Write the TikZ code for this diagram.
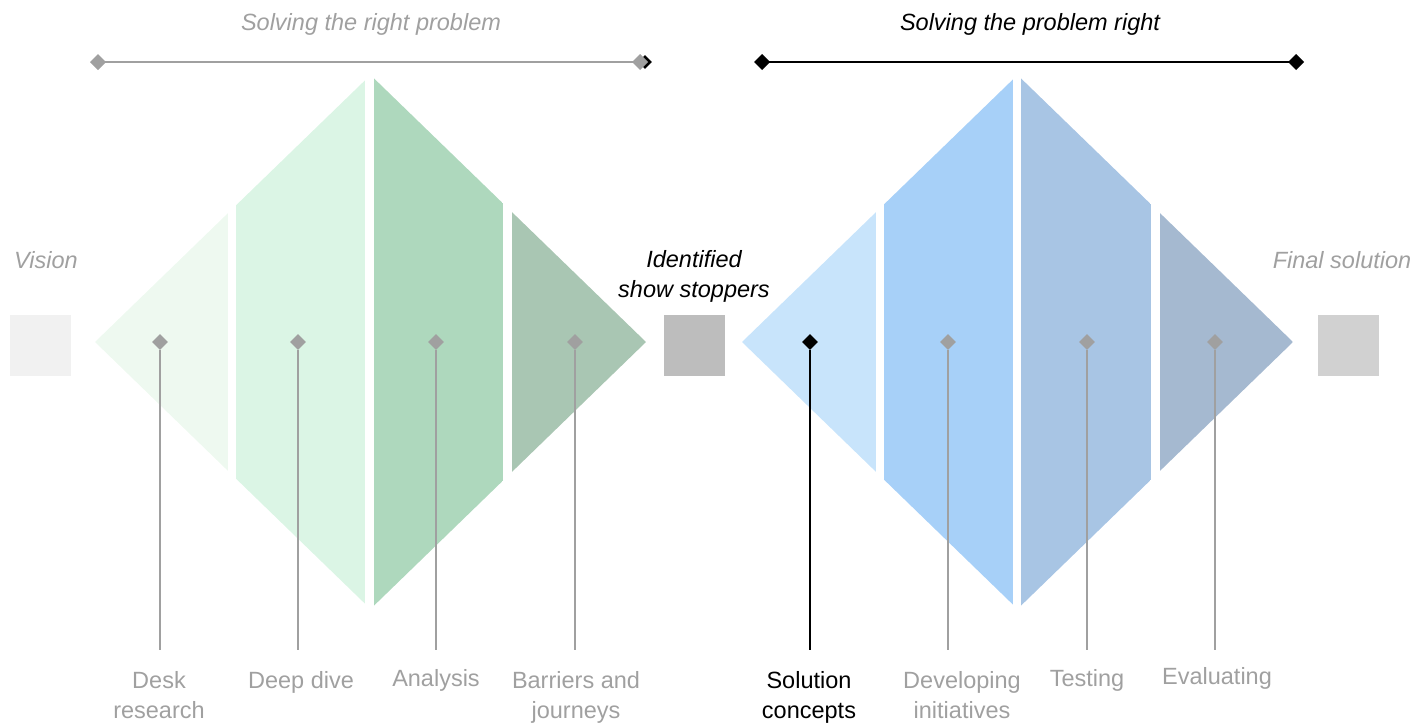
\documentclass[tikz,border=0pt]{standalone}
\usepackage{fontspec}
\setmainfont{Liberation Sans}
\usepackage{xcolor}
\usepackage{tikz}
\usetikzlibrary{arrows.meta,shapes.geometric}

\definecolor{txtgray}{HTML}{A0A0A0}
\definecolor{gA}{HTML}{EEF9F0}
\definecolor{gB}{HTML}{DBF5E5}
\definecolor{gC}{HTML}{AED8BD}
\definecolor{gD}{HTML}{A9C6B3}
\definecolor{bA}{HTML}{C8E4FB}
\definecolor{bB}{HTML}{A7D0F8}
\definecolor{bC}{HTML}{A8C5E4}
\definecolor{bD}{HTML}{A5B9D0}
\definecolor{sqA}{HTML}{F1F1F1}
\definecolor{sqB}{HTML}{BDBDBD}
\definecolor{sqC}{HTML}{D1D1D1}

\tikzset{
	dot/.style={diamond,fill=txtgray,inner sep=0pt,minimum width=16pt,minimum height=16pt},
	stem/.style={line width=1.5pt,txtgray},
	lbl/.style={font=\fontsize{23.5}{30}\selectfont,align=center,inner sep=0pt,anchor=north,txtgray},
	ttl/.style={font=\fontsize{23.5}{30}\selectfont\itshape,align=center,inner sep=0pt,anchor=base},
	sq/.style={minimum size=61pt,inner sep=0pt},
	span/.style={line width=2pt,{Diamond[length=16pt,width=16pt]}-{Diamond[length=16pt,width=16pt]}}
}

\begin{document}
\begin{tikzpicture}[x=1pt,y=-1pt]
		\useasboundingbox (0,0) rectangle (1416,723);
		% left diamond
		\begin{scope}
			\clip (95,342) -- (370.5,75) -- (646,342) -- (370.5,609) -- cycle;
			\fill[gA] (95,0) rectangle (228,723);
			\fill[gB] (236,0) rectangle (365,723);
			\fill[gC] (374,0) rectangle (503,723);
			\fill[gD] (512,0) rectangle (646,723);
		\end{scope}
		% right diamond
		\begin{scope}
			\clip (742,342) -- (1017.5,75) -- (1293,342) -- (1017.5,609) -- cycle;
			\fill[bA] (742,0) rectangle (876,723);
			\fill[bB] (884,0) rectangle (1013,723);
			\fill[bC] (1021,0) rectangle (1151,723);
			\fill[bD] (1160,0) rectangle (1293,723);
		\end{scope}

		% titles and spans
		\node[ttl,txtgray] (left title) at (371,30) {Solving the right problem};
		\node[ttl] (right title) at (1030,30) {Solving the problem right};
		\node[diamond,fill=black,inner sep=0pt,minimum width=14pt,minimum height=14pt] (left end) at (645,62) {};
		\coordinate (la) at (90,62);
		\coordinate (lb) at (648,62);
		\draw[span,txtgray] (la) -- (lb);
		\coordinate (ra) at (754,62);
		\coordinate (rb) at (1304,62);
		\draw[span,black] (ra) -- (rb);

		% squares
		\node[sq,fill=sqA] (vision box) at (40.5,345.5) {};
		\node[sq,fill=sqB] (stopper box) at (694.5,345.5) {};
		\node[sq,fill=sqC] (final box) at (1348.5,345.5) {};
		\node[ttl,txtgray] (vision) at (46,268) {Vision};
		\node[ttl] (stoppers) at (694,297) {Identified\\show stoppers};
		\node[ttl,txtgray] (final) at (1342,268) {Final solution};

		% markers and stems
		\coordinate (e1) at (160,650);
		\coordinate (e2) at (298,650);
		\coordinate (e3) at (436,650);
		\coordinate (e4) at (575,650);
		\coordinate (e5) at (810,650);
		\coordinate (e6) at (948,650);
		\coordinate (e7) at (1087,650);
		\coordinate (e8) at (1215,650);
		\node[dot] (m1) at (160,342) {};
		\node[dot] (m2) at (298,342) {};
		\node[dot] (m3) at (436,342) {};
		\node[dot] (m4) at (575,342) {};
		\node[dot,fill=black] (m5) at (810,342) {};
		\node[dot] (m6) at (948,342) {};
		\node[dot] (m7) at (1087,342) {};
		\node[dot] (m8) at (1215,342) {};
		\draw[stem] (m1.south) -- (e1);
		\draw[stem] (m2.south) -- (e2);
		\draw[stem] (m3.south) -- (e3);
		\draw[stem] (m4.south) -- (e4);
		\draw[stem,black] (m5.south) -- (e5);
		\draw[stem] (m6.south) -- (e6);
		\draw[stem] (m7.south) -- (e7);
		\draw[stem] (m8.south) -- (e8);

		% labels
		\node[lbl] (l1) at (159,671) {Desk\\research};
		\node[lbl] (l2) at (301,671) {Deep dive};
		\node[lbl] (l3) at (436,669) {Analysis};
		\node[lbl] (l4) at (576,671) {Barriers and\\journeys};
		\node[lbl,black] (l5) at (809,671) {Solution\\concepts};
		\node[lbl] (l6) at (962,671) {Developing\\initiatives};
		\node[lbl] (l7) at (1087,669) {Testing};
		\node[lbl] (l8) at (1217,667) {Evaluating};
	\end{tikzpicture}
\end{document}
